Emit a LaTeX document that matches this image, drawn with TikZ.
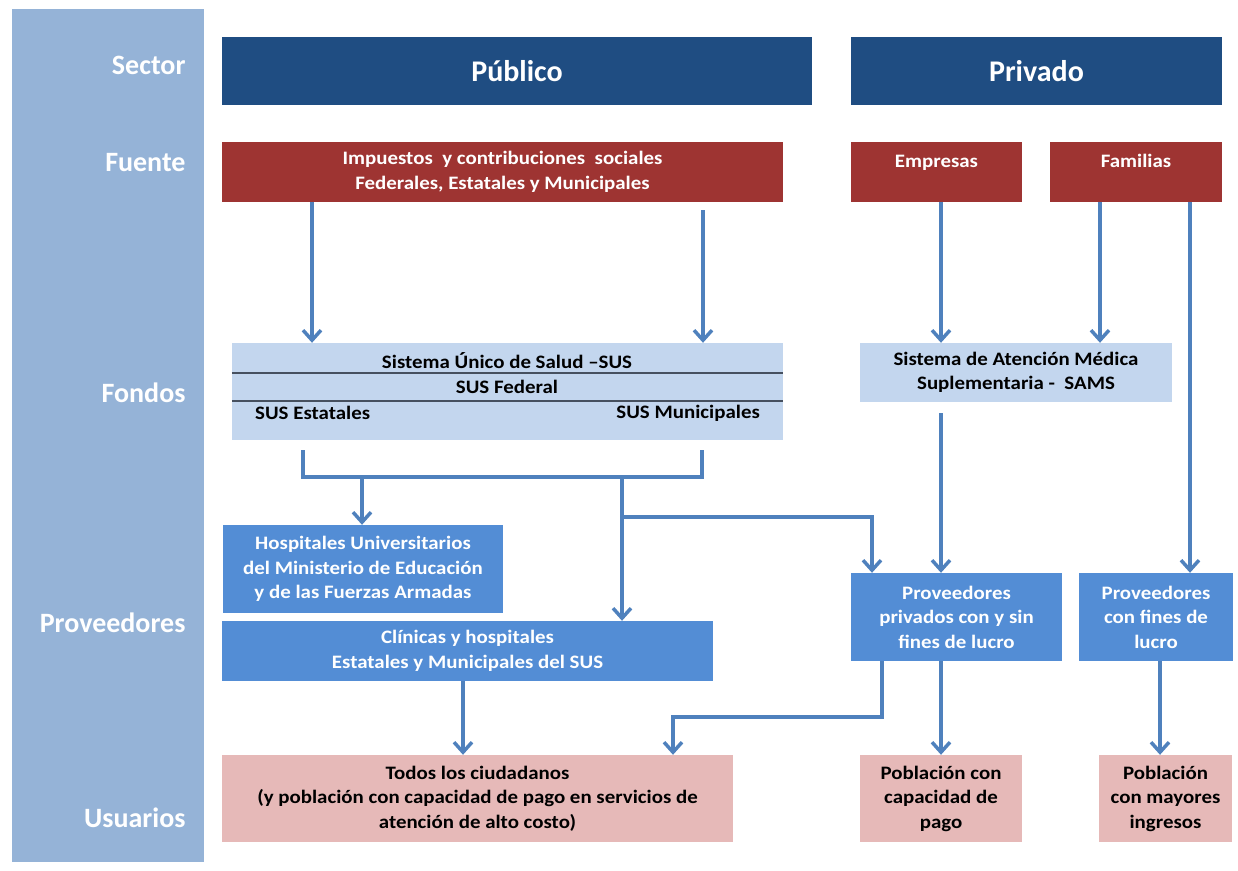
\documentclass[tikz,border=0pt]{standalone}
\usepackage{fontspec}
\setmainfont{Carlito}
\newfontfamily\boxfont{Carlito}[FakeStretch=1.1]
\usetikzlibrary{arrows.meta}
\definecolor{sidebar}{RGB}{149,179,215}
\definecolor{sectorblue}{RGB}{31,77,130}
\definecolor{fuentered}{RGB}{158,52,50}
\definecolor{fondoblue}{RGB}{195,214,238}
\definecolor{provblue}{RGB}{83,141,213}
\definecolor{userpink}{RGB}{230,185,184}
\definecolor{flowblue}{RGB}{79,129,189}
\definecolor{susgray}{RGB}{70,80,95}

\begin{document}
\begin{tikzpicture}[x=1pt,y=-1pt,
  box/.style={inner sep=2pt,align=center,font=\boxfont\bfseries\fontsize{19}{24.5}\selectfont},
  sectorbox/.style={box,fill=sectorblue,text=white,minimum height=68pt,font=\bfseries\fontsize{30}{36}\selectfont},
  fuentebox/.style={box,fill=fuentered,text=white,minimum height=60pt},
  fondobox/.style={box,fill=fondoblue},
  provbox/.style={box,fill=provblue,text=white},
  userbox/.style={box,fill=userpink,minimum height=87pt},
  rowlabel/.style={anchor=east,text=white,font=\bfseries\fontsize{28}{32}\selectfont},
  flow/.style={draw=flowblue,line width=3.5pt,-{Straight Barb[length=10pt,width=18pt]}},
  link/.style={draw=flowblue,line width=3.5pt},
  susline/.style={draw=susgray,line width=2pt}]
\useasboundingbox (0,0) rectangle (1238,870);
\fill[sidebar] (12,9) rectangle (204,862);
\node[rowlabel] (lsector) at (189,65) {Sector};
\node[rowlabel] (lfuente) at (189,163) {Fuente};
\node[rowlabel] (lfondos) at (189,393) {Fondos};
\node[rowlabel] (lprov) at (189,623) {Proveedores};
\node[rowlabel] (lusuarios) at (189,818) {Usuarios};

\node[sectorbox,minimum width=590pt] (publico) at (517,71) {Público};
\node[sectorbox,minimum width=371pt] (privado) at (1036.5,71) {Privado};

\node[fuentebox,minimum width=561pt] (impuestos) at (502.5,172) {Impuestos~ y contribuciones~ sociales\\Federales, Estatales y Municipales};
\node[fuentebox,minimum width=171pt,text height=12pt,text depth=22pt] (empresas) at (936.5,172) {Empresas};
\node[fuentebox,minimum width=172pt,text height=12pt,text depth=22pt] (familias) at (1136,172) {Familias};

\node[fondobox,minimum width=551pt,minimum height=97pt] (sus) at (507.5,391.5) {};
\draw[susline] ([yshift=-30pt]sus.north west) -- ([yshift=-30pt]sus.north east);
\draw[susline] ([yshift=-58pt]sus.north west) -- ([yshift=-58pt]sus.north east);
\node[box] (sustitle) at (507,361) {Sistema Único de Salud –SUS};
\node[box] (susfed) at (507,387) {SUS Federal};
\node[box,anchor=west] (susest) at (253,413) {SUS Estatales};
\node[box,anchor=east] (susmun) at (762,413) {SUS Municipales};
\node[fondobox,minimum width=312pt,minimum height=59pt] (sams) at (1016,372.5) {Sistema de Atención Médica\\Suplementaria -~ SAMS};

\node[provbox,minimum width=280pt,minimum height=88pt] (hospitales) at (363,569) {Hospitales Universitarios\\del Ministerio de Educación\\y de las Fuerzas Armadas};
\node[provbox,minimum width=491pt,minimum height=60pt] (clinicas) at (467.5,651) {Clínicas y hospitales\\Estatales y Municipales del SUS};
\node[provbox,minimum width=211pt,minimum height=88pt] (provpriv) at (956.5,617) {Proveedores\\privados con y sin\\fines de lucro};
\node[provbox,minimum width=154pt,minimum height=88pt] (provlucro) at (1156,617) {Proveedores\\con fines de\\lucro};

\node[userbox,minimum width=511pt] (todos) at (477.5,798.5) {Todos los ciudadanos\\(y población con capacidad de pago en servicios de\\atención de alto costo)};
\node[userbox,minimum width=162pt] (pobpago) at (941,798.5) {Población con\\capacidad de\\pago};
\node[userbox,minimum width=133pt] (pobing) at (1165.5,798.5) {Población\\con mayores\\ingresos};

\coordinate (imp1) at (312,202);
\coordinate (imp2) at (703,210);
\coordinate (emp) at (941,202);
\coordinate (fam1) at (1100,202);
\coordinate (fam2) at (1190,202);
\draw[flow] (imp1) -- (imp1 |- sus.north);
\draw[flow] (imp2) -- (imp2 |- sus.north);
\draw[flow] (emp) -- (emp |- sams.north);
\draw[flow] (fam1) -- (fam1 |- sams.north);
\draw[flow] (fam2) -- (fam2 |- provlucro.north);

\coordinate (susl) at (303,450);
\coordinate (susr) at (702,450);
\coordinate (busl) at (303,477);
\coordinate (busr) at (702,477);
\draw[link] (susl) -- (busl) -- (busr) -- (susr);
\coordinate (tohosp) at (362,477);
\coordinate (tocli) at (622,477);
\coordinate (topriv) at (622,517);
\draw[flow] (tohosp) -- (tohosp |- hospitales.north);
\draw[flow] (tocli) -- (tocli |- clinicas.north);
\draw[flow] (topriv) -| ([xshift=-84.5pt]provpriv.north);
\coordinate (samsout) at (941,413);
\draw[flow] (samsout) -- (samsout |- provpriv.north);

\coordinate (cliout) at (463,681);
\draw[flow] (cliout) -- (cliout |- todos.north);
\coordinate (privout) at (882,661);
\coordinate (privbend) at (673,717);
\draw[flow] (privout) |- (privbend) -- (privbend |- todos.north);
\coordinate (privdown) at (941,661);
\draw[flow] (privdown) -- (privdown |- pobpago.north);
\coordinate (lucrodown) at (1160,661);
\draw[flow] (lucrodown) -- (lucrodown |- pobing.north);
\end{tikzpicture}
\end{document}
